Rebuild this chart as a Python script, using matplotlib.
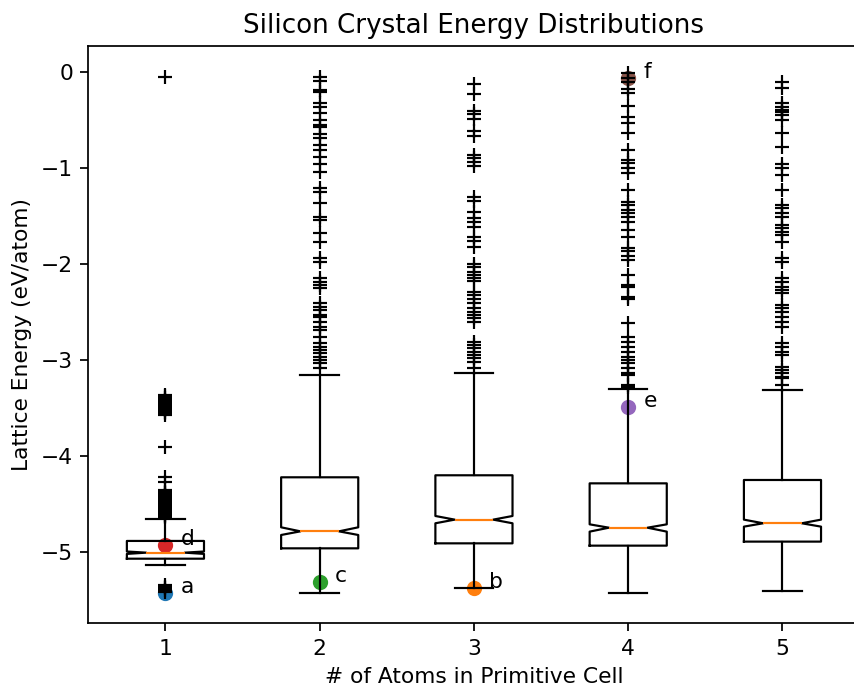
import matplotlib
matplotlib.use("Agg")
import matplotlib.pyplot as plt

# ---- data ----
positions = [1, 2, 3, 4, 5]
q1 = [-5.07, -4.962, -4.910, -4.934, -4.892]
med = [-5.007, -4.785, -4.663, -4.747, -4.701]
q3 = [-4.885, -4.222, -4.201, -4.285, -4.250]
whislo = [-5.14, -5.424, -5.372, -5.424, -5.403]
whishi = [-4.656, -3.156, -3.139, -3.306, -3.3125]
cilo = [-5.02, -4.823, -4.701, -4.788, -4.736]
cihi = [-4.995, -4.743, -4.625, -4.712, -4.663]

fliers1 = [-0.05, -3.365, -3.38, -3.399, -3.415, -3.434, -3.45, -3.469, -3.485,
           -3.503, -3.52, -3.538, -3.555, -3.573, -3.903,
           -4.215, -4.267, -4.354, -4.37, -4.389, -4.405, -4.424, -4.44, -4.458,
           -4.475, -4.493, -4.51, -4.528, -4.545, -4.563, -4.58, -4.597, -4.61,
           -4.622, -4.635, -5.344, -5.36, -5.378, -5.395, -5.413]
fliers2 = [-0.049, -0.090, -0.188, -0.212, -0.326, -0.361, -0.424, -0.500, -0.552,
           -0.569, -0.646, -0.691, -0.760, -0.813, -0.882, -0.958, -1.038, -1.212,
           -1.247, -1.368, -1.507, -1.542, -1.681, -1.767, -1.941, -1.976, -2.149,
           -2.184, -2.219, -2.253, -2.410, -2.444, -2.479, -2.531, -2.549, -2.601,
           -2.653, -2.688, -2.757, -2.826, -2.861, -2.896, -2.931, -2.965, -3.000,
           -3.035, -3.087]
fliers3 = [-0.125, -0.229, -0.403, -0.438, -0.493, -0.611, -0.667, -0.865, -0.899,
           -0.934, -0.979, -1.299, -1.340, -1.455, -1.524, -1.559, -1.611, -1.722,
           -1.757, -1.826, -2.000, -2.035, -2.080, -2.115, -2.149, -2.174, -2.288,
           -2.323, -2.368, -2.410, -2.462, -2.497, -2.531, -2.566, -2.601, -2.809,
           -2.844, -2.878, -2.913, -2.948, -2.983, -3.017, -3.087]
fliers4 = [-0.014, -0.066, -0.101, -0.181, -0.222, -0.354, -0.465, -0.535, -0.632,
           -0.813, -0.917, -0.944, -1.003, -1.049, -1.229, -1.351, -1.385, -1.438,
           -1.472, -1.507, -1.559, -1.646, -1.715, -1.837, -1.861, -1.917, -1.958,
           -2.115, -2.219, -2.243, -2.340, -2.368, -2.618, -2.757, -2.809, -2.861,
           -2.913, -2.965, -3.000, -3.035, -3.087, -3.139, -3.16, -3.26, -3.28]
fliers5 = [-0.101, -0.170, -0.326, -0.361, -0.396, -0.413, -0.448, -0.500, -0.639,
           -0.785, -0.958, -1.003, -1.073, -1.229, -1.385, -1.420, -1.465, -1.507,
           -1.594, -1.628, -1.663, -1.698, -1.767, -1.941, -1.976, -2.149, -2.184,
           -2.236, -2.271, -2.306, -2.427, -2.462, -2.497, -2.549, -2.601, -2.653,
           -2.826, -2.861, -2.913, -2.948, -3.069, -3.104, -3.139, -3.174, -3.19,
           -3.26]
fliers = [fliers1, fliers2, fliers3, fliers4, fliers5]

point_labels = ["a", "b", "c", "d", "e", "f"]
point_x = [1, 3, 2, 1, 4, 4]
point_y = [-5.43, -5.378, -5.316, -4.93, -3.486, -0.066]

tick_labels = ["1", "2", "3", "4", "5"]

# ---- figure ----
DPI = 157
fig = plt.figure(figsize=(854 / DPI, 689 / DPI), dpi=DPI)
ax = fig.add_axes([88.3 / 854, (689 - 623.3) / 689,
                   (859.6 - 88.3) / 854, (623.3 - 46.3) / 689])

for lab, x, y in zip(point_labels, point_x, point_y):
    ax.scatter(x, y)
    ax.text(x + 0.1, y, lab)

stats = []
for i in range(len(positions)):
    stats.append(dict(med=med[i], q1=q1[i], q3=q3[i], whislo=whislo[i],
                      whishi=whishi[i], cilo=cilo[i], cihi=cihi[i],
                      fliers=fliers[i]))

ax.bxp(stats, positions=positions, widths=0.5, shownotches=True,
       flierprops=dict(marker="+", markeredgecolor="k", markersize=6))

ax.set_xticks(positions)
ax.set_xticklabels(tick_labels)
ax.set_xlim(0.5, 5.5)
ax.set_ylim(-5.743, 0.268)
ax.set_title("Silicon Crystal Energy Distributions")
ax.set_xlabel("# of Atoms in Primitive Cell")
ax.set_ylabel("Lattice Energy (eV/atom)")

fig.savefig("out.png", dpi=DPI)
